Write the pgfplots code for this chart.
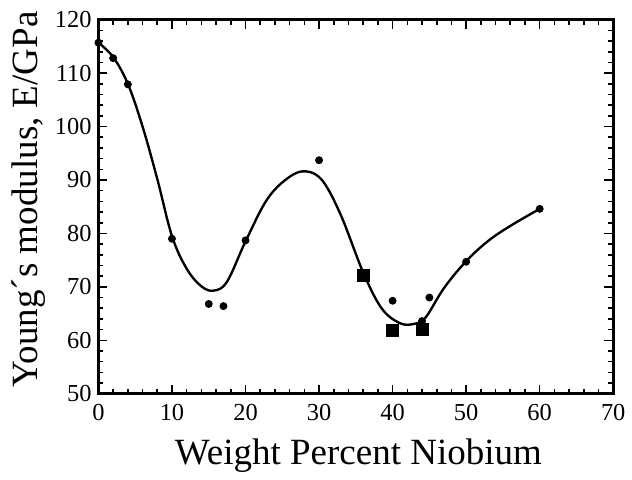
\documentclass[border=0pt]{standalone}
\usepackage{fontspec}
\setmainfont{Liberation Serif}
\usepackage{pgfplots}
\pgfplotsset{compat=1.18}
\usetikzlibrary{calc}

\begin{document}
\begin{tikzpicture}
\begin{axis}[
    name=ax,
    at={(0,0)}, anchor=south west,
    scale only axis,
    width=261.5pt, height=190pt,
    xmin=0, xmax=70, ymin=50, ymax=120,
    xtick={0,10,...,70}, ytick={50,60,...,120},
    minor tick num=4,
    tick align=inside,
    axis line style={line width=1.5pt},
    major tick length=4.5pt, minor tick length=2.5pt,
    every tick/.style={line width=0.8pt, black},
    /pgf/number format/assume math mode=true,
    ticklabel style={font=\fontsize{12.4}{14}\selectfont},
    xticklabel style={yshift=-2pt},
    label style={font=\fontsize{18.8}{22}\selectfont},
    xlabel={Weight Percent Niobium},
    ylabel={Young´s modulus, E/GPa},
    xlabel style={at={($(rel axis cs:0.505,0)+(0,-36pt)$)}, anchor=base},
    ylabel style={at={($(rel axis cs:0,0.52)+(-31pt,0)$)}, anchor=base},
]
% fitted curve
\addplot[smooth, tension=0.6, line width=1.2pt, black, no marks] coordinates {
    (0,115.7) (2,113) (4,108) (6,100) (8,90.2) (10,79.5) (12,73.4)
    (14,70.1) (15.7,69.3) (17.5,71) (20,78.5) (23,86.5) (26,90.6)
    (28.3,91.6) (30.5,89.8) (33,83.3) (36,72.7) (38.5,66) (41,63.2)
    (43,63.1) (44.5,64.3) (47,69.8) (50,74.8) (53,78.6) (56,81.4)
    (60,84.6)
};
% measured points
\addplot[only marks, mark=*, mark size=1.8pt, black] coordinates {
    (0,115.7) (2,112.8) (4,107.9) (10,79) (15,66.8) (17,66.4) (20,78.7)
    (30,93.7) (40,67.4) (44,63.6) (45,68) (50,74.7) (60,84.6)
};
\addplot[only marks, mark=square*, mark size=3pt, black] coordinates {
    (36,72.2) (40,61.8) (44,62.0)
};
\end{axis}
\path[use as bounding box] (-50pt,-40pt) rectangle (266pt,200pt);
\end{tikzpicture}
\end{document}
